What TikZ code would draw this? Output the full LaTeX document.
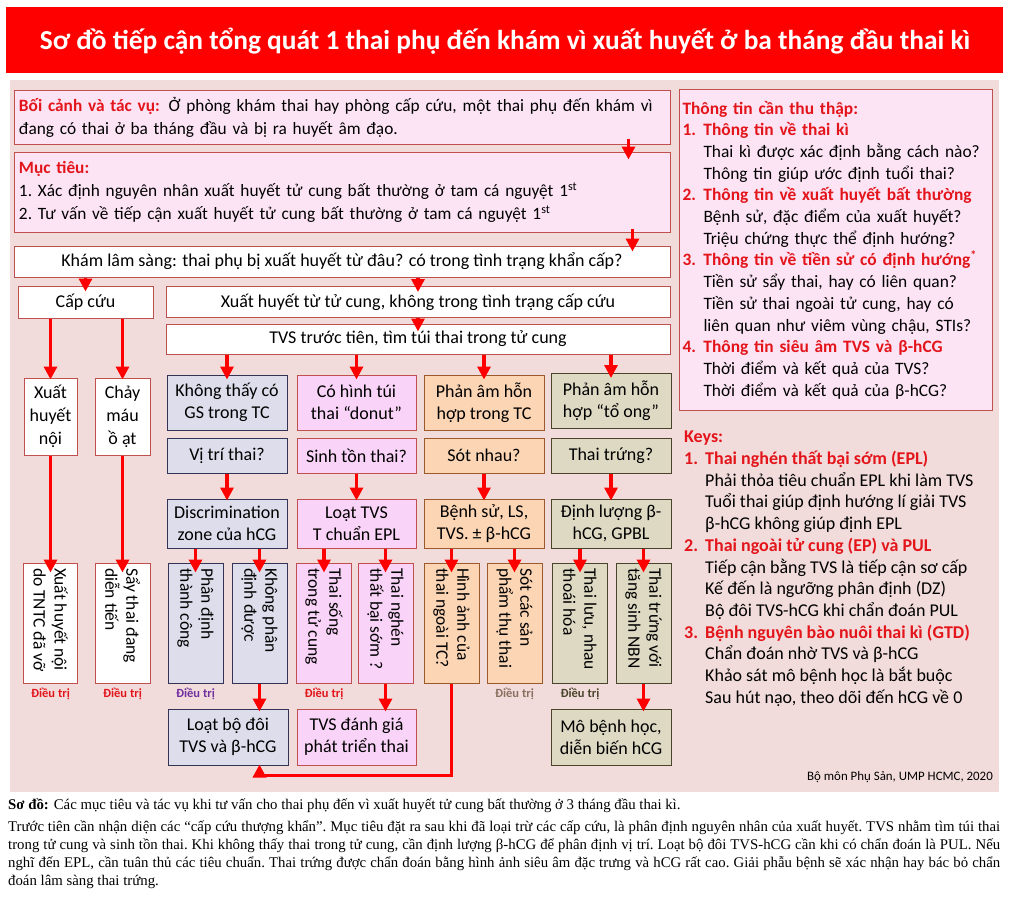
\documentclass[tikz,border=0pt]{standalone}
\usepackage{fontspec}
\setmainfont{Carlito}
\newfontfamily\capfont{Liberation Serif}
\usepackage{graphicx}
\usetikzlibrary{arrows.meta,positioning,calc}
\definecolor{titlered}{HTML}{FF0000}
\definecolor{panel}{HTML}{F2DCDB}
\definecolor{lilac}{HTML}{FCE4F5}
\definecolor{boxred}{HTML}{C0504D}
\definecolor{headred}{HTML}{E3151B}
\definecolor{arrred}{HTML}{FF0000}
\definecolor{bluefill}{HTML}{DDDDEC}
\definecolor{blueline}{HTML}{333355}
\definecolor{pinkfill}{HTML}{FAD4F8}
\definecolor{orfill}{HTML}{FCD5B4}
\definecolor{orline}{HTML}{9C5A2C}
\definecolor{olfill}{HTML}{DDD9C3}
\definecolor{olline}{HTML}{4A452A}
\definecolor{purp}{HTML}{7030A0}
\definecolor{brownish}{HTML}{8A7060}
\newcommand\bxfont{\fontsize{18}{22}\selectfont}
\newcommand\ctxfont{\fontsize{17.3}{23}\selectfont}
\newcommand\vlab[1]{\rotatebox{-90}{\begin{minipage}{110pt}\raggedright\fontsize{17.5}{21}\selectfont #1\end{minipage}}}
\newcommand\infohd[2]{\makebox[21pt][l]{#1}#2}
\newcommand\infosub{\hspace*{21pt}}
\tikzset{
  >={Triangle[length=13pt,width=13pt]},
  % hộp
  bx/.style={rectangle,draw,line width=1pt,align=center,inner sep=2pt,font=\bxfont},
  wb/.style={bx,fill=white,draw=boxred},
  lb/.style={bx,fill=lilac,draw=boxred},
  bl/.style={bx,fill=bluefill,draw=blueline,minimum width=120pt},
  pk/.style={bx,fill=pinkfill,draw=boxred,minimum width=119pt},
  og/.style={bx,fill=orfill,draw=orline,minimum width=120pt},
  ol/.style={bx,fill=olfill,draw=olline,minimum width=120pt},
  vt/.style={minimum width=55pt,minimum height=120pt,inner sep=0pt},
  % mũi tên
  fa/.style={->,draw=arrred,line width=3.5pt},
  into/.style={shorten >=-#1},
  dt/.style={font=\fontsize{12.5}{14}\selectfont\bfseries,inner sep=1pt},
}
\begin{document}
\begin{tikzpicture}[x=1pt,y=-1pt]
  \useasboundingbox (0,0) rectangle (1009,899);
  \fill[white] (0,0) rectangle (1009,899);
  \fill[titlered] (6,7) rectangle (1003,73);
  \node[text=white,font=\fontsize{27.4}{30}\selectfont\bfseries] (title) at (505,41)
    {Sơ đồ tiếp cận tổng quát 1 thai phụ đến khám vì xuất huyết ở ba tháng đầu thai kì};
  \fill[panel] (10,80) rectangle (999,792);

  \node[lb,align=left,text width=646pt,inner xsep=5pt,minimum height=54pt,font=\ctxfont] (ctx) at (342,117)
    {{\color{headred}\bfseries Bối cảnh và tác vụ:} Ở phòng khám thai hay phòng cấp cứu, một thai phụ đến khám vì\\
     đang có thai ở ba tháng đầu và bị ra huyết âm đạo.};
  \node[lb,align=left,text width=646pt,inner xsep=5pt,minimum height=80pt,font=\ctxfont] (goal) at (342,192)
    {{\color{headred}\bfseries Mục tiêu:}\\
     1.\ Xác định nguyên nhân xuất huyết tử cung bất thường ở tam cá nguyệt 1\textsuperscript{st}\\
     2.\ Tư vấn về tiếp cận xuất huyết tử cung bất thường ở tam cá nguyệt 1\textsuperscript{st}};
  \node[wb,minimum width=656pt,minimum height=31pt] (exam) at (342,261.5)
    {Khám lâm sàng: thai phụ bị xuất huyết từ đâu? có trong tình trạng khẩn cấp?};
  \node[wb,minimum width=135pt,minimum height=32pt] (emerg) at (85.5,302) {Cấp cứu};
  \node[wb,minimum width=504pt,minimum height=31pt] (uter) at (418,302)
    {Xuất huyết từ tử cung, không trong tình trạng cấp cứu};
  \node[wb,minimum width=504pt,minimum height=30pt] (tvs) at (418,339)
    {TVS trước tiên, tìm túi thai trong tử cung};

  \node[wb,minimum width=53pt,minimum height=77pt,font=\fontsize{18}{23}\selectfont] (xhn) at (50.5,416.5) {Xuất\\huyết\\nội};
  \node[wb,minimum width=55pt,minimum height=77pt,font=\fontsize{18}{23}\selectfont] (cmo) at (122.5,416.5) {Chảy\\máu\\ồ ạt};

  \node[bl,minimum height=55pt] (b1) at (227,402.5) {Không thấy có\\GS trong TC};
  \node[pk,minimum height=55pt] (p1) at (356.5,402.5) {Có hình túi\\thai “donut”};
  \node[og,minimum height=55pt] (o1) at (484,402.5) {Phản âm hỗn\\hợp trong TC};
  \node[ol,minimum height=55pt] (g1) at (611,401) {Phản âm hỗn\\hợp “tổ ong”};

  \node[bl,minimum height=35pt] (b2) at (227,455.5) {Vị trí thai?};
  \node[pk,minimum height=35pt] (p2) at (356.5,455.5) {Sinh tồn thai?};
  \node[og,minimum height=35pt] (o2) at (484,455.5) {Sót nhau?};
  \node[ol,minimum height=35pt] (g2) at (611,455.5) {Thai trứng?};

  \node[bl,minimum height=49pt] (b3) at (227,523.5) {Discrimination\\zone của hCG};
  \node[pk,minimum height=49pt] (p3) at (356.5,523.5) {Loạt TVS\\T chuẩn EPL};
  \node[og,minimum height=49pt] (o3) at (484,523.5) {Bệnh sử, LS,\\TVS. ± β-hCG};
  \node[ol,minimum height=49pt] (g3) at (611,523.5) {Định lượng β-\\hCG, GPBL};

  \node[wb,vt,minimum width=54pt] (xtn) at (50.5,623) {\vlab{Xuất huyết nội\\do TNTC đã vỡ}};
  \node[wb,vt] (styd) at (122.5,623) {\vlab{Sẩy thai đang\\diễn tiến}};
  \node[bl,vt] (b4a) at (195.5,623) {\vlab{Phân định\\thành công}};
  \node[bl,vt] (b4b) at (259.5,623) {\vlab{Không phân\\định được}};
  \node[pk,vt] (p4a) at (324,623) {\vlab{Thai sống\\trong tử cung}};
  \node[pk,vt] (p4b) at (385.5,623) {\vlab{Thai nghén\\thất bại sớm ?}};
  \node[og,vt] (o4a) at (451.5,623) {\vlab{Hình ảnh của\\thai ngoài TC?}};
  \node[og,vt] (o4b) at (514.5,623) {\vlab{Sót các sản\\phẩm thụ thai}};
  \node[ol,vt] (g4a) at (580,623) {\vlab{Thai lưu, nhau\\thoái hóa}};
  \node[ol,vt] (g4b) at (643.5,623) {\vlab{Thai trứng với\\tăng sinh NBN}};

  \node[dt,text=headred,below=3pt of xtn] (dt1) {Điều trị};
  \node[dt,text=headred,below=3pt of styd] (dt2) {Điều trị};
  \node[dt,text=purp,below=3pt of b4a] (dt3) {Điều trị};
  \node[dt,text=headred,below=3pt of p4a] (dt4) {Điều trị};
  \node[dt,text=brownish,below=3pt of o4b] (dt5) {Điều trị};
  \node[dt,text=olline,below=3pt of g4a] (dt6) {Điều trị};

  \node[bl,minimum height=56pt] (b5) at (228,737) {Loạt bộ đôi\\TVS và β-hCG};
  \node[pk,minimum height=56pt] (p5) at (356.5,737) {TVS đánh giá\\phát triển thai};
  \node[ol,minimum height=56pt] (g5) at (611,737) {Mô bệnh học,\\diễn biến hCG};

  % cột phải
  \node[lb,anchor=north west,align=left,text width=307pt,inner xsep=3pt,minimum height=321pt,
        font=\fontsize{17.4}{21.7}\selectfont] (info) at (679,89)
    {{\color{headred}\bfseries Thông tin cần thu thập:}\\
     {\color{headred}\bfseries\infohd{1.}{Thông tin về thai kì}}\\
     \infosub Thai kì được xác định bằng cách nào?\\
     \infosub Thông tin giúp ước định tuổi thai?\\
     {\color{headred}\bfseries\infohd{2.}{Thông tin về xuất huyết bất thường}}\\
     \infosub Bệnh sử, đặc điểm của xuất huyết?\\
     \infosub Triệu chứng thực thể định hướng?\\
     {\color{headred}\bfseries\infohd{3.}{Thông tin về tiền sử có định hướng\textsuperscript{*}}}\\
     \infosub Tiền sử sẩy thai, hay có liên quan?\\
     \infosub Tiền sử thai ngoài tử cung, hay có\\
     \infosub liên quan như viêm vùng chậu, STIs?\\
     {\color{headred}\bfseries\infohd{4.}{Thông tin siêu âm TVS và β-hCG}}\\
     \infosub Thời điểm và kết quả của TVS?\\
     \infosub Thời điểm và kết quả của β-hCG?};
  \node[anchor=north west,align=left,inner sep=0pt,font=\fontsize{18}{21.7}\selectfont] (keys) at (684,431)
    {{\color{headred}\bfseries Keys:}\\
     {\color{headred}\bfseries\infohd{1.}{Thai nghén thất bại sớm (EPL)}}\\
     \infosub Phải thỏa tiêu chuẩn EPL khi làm TVS\\
     \infosub Tuổi thai giúp định hướng lí giải TVS\\
     \infosub β-hCG không giúp định EPL\\
     {\color{headred}\bfseries\infohd{2.}{Thai ngoài tử cung (EP) và PUL}}\\
     \infosub Tiếp cận bằng TVS là tiếp cận sơ cấp\\
     \infosub Kế đến là ngưỡng phân định (DZ)\\
     \infosub Bộ đôi TVS-hCG khi chẩn đoán PUL\\
     {\color{headred}\bfseries\infohd{3.}{Bệnh nguyên bào nuôi thai kì (GTD)}}\\
     \infosub Chẩn đoán nhờ TVS và β-hCG\\
     \infosub Khảo sát mô bệnh học là bắt buộc\\
     \infosub Sau hút nạo, theo dõi đến hCG về 0};
  \node[anchor=east,inner sep=0pt,font=\fontsize{12.9}{14}\selectfont] (credit) at (993,777) {Bộ môn Phụ Sản, UMP HCMC, 2020};

  % mũi tên
  \draw[fa,shorten <=-6pt,into=8pt] ([xshift=-42pt]ctx.south east) -- ([xshift=-42pt]goal.north east);
  \draw[fa,shorten <=-4pt,into=6pt] ([xshift=-38pt]goal.south east) -- ([xshift=-38pt]exam.north east);
  \draw[fa,into=6pt] (exam.south -| emerg) -- (emerg.north);
  \draw[fa,into=6pt] (exam.south -| uter) -- (uter.north);
  \draw[fa,into=8pt] (uter.south) -- (tvs.north);
  \foreach \n in {b1,p1,o1,g1}
    \draw[fa,into=5pt] (tvs.south -| \n) -- (\n.north);
  \foreach \a/\b in {b2/b3,p2/p3,o2/o3,g2/g3}
    \draw[fa,into=2pt] (\a.south) -- (\b.north);
  \draw[fa,into=2pt] (emerg.south -| xhn) -- (xhn.north);
  \draw[fa,into=2pt] (emerg.south -| cmo) -- (cmo.north);
  \draw[fa,into=10pt] (xhn.south) -- (xtn.north);
  \draw[fa,into=10pt] (cmo.south) -- (styd.north);
  \foreach \a/\b in {b3/b4a,b3/b4b,p3/p4a,p3/p4b,o3/o4a,o3/o4b,g3/g4a,g3/g4b}
    \draw[fa,into=10pt] (\a.south -| \b) -- (\b.north);
  \draw[fa,into=3pt] (b4b.south) -- (b5.north -| b4b.south);
  \draw[fa,into=3pt] (p4b.south) -- (p5.north -| p4b.south);
  \draw[fa,into=3pt] (g4b.south) -- (g5.north -| g4b.south);
  \draw[fa,into=1pt] (o4a.south) -- ++(0,92) -| (b5.south -| b4b.south);

  % chú thích
  \node[anchor=west,inner sep=0pt,font=\capfont\fontsize{14.8}{18}\selectfont] (cap1) at (8,806)
    {\textbf{Sơ đồ:} Các mục tiêu và tác vụ khi tư vấn cho thai phụ đến vì xuất huyết tử cung bất thường ở 3 tháng đầu thai kì.};
  \node[anchor=north west,inner sep=0pt,text width=992pt,align=justify,font=\capfont\fontsize{14.8}{18}\selectfont\frenchspacing] (cap2) at (8,821)
    {Trước tiên cần nhận diện các “cấp cứu thượng khẩn”. Mục tiêu đặt ra sau khi đã loại trừ các cấp cứu, là phân định nguyên nhân của xuất huyết. TVS nhằm tìm túi thai\linebreak
     trong tử cung và sinh tồn thai. Khi không thấy thai trong tử cung, cần định lượng β-hCG để phân định vị trí. Loạt bộ đôi TVS-hCG cần khi có chẩn đoán là PUL. Nếu\linebreak
     nghĩ đến EPL, cần tuân thủ các tiêu chuẩn. Thai trứng được chẩn đoán bằng hình ảnh siêu âm đặc trưng và hCG rất cao. Giải phẫu bệnh sẽ xác nhận hay bác bỏ chẩn\linebreak
     đoán lâm sàng thai trứng.};
\end{tikzpicture}
\end{document}
